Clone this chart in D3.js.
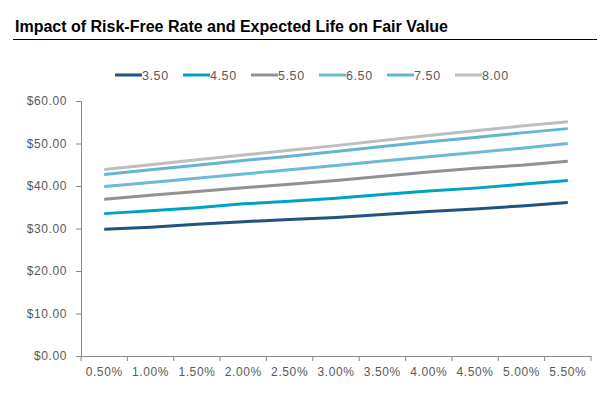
<!DOCTYPE html>
<html>
<head>
<meta charset="utf-8">
<script src="https://cdn.jsdelivr.net/npm/d3@7"></script>
<style>
  body { margin: 0; background: #fff; }
  svg { display: block; font-family: "Liberation Sans", Arial, sans-serif; }
</style>
</head>
<body>
<div id="chart"></div>
<script>
// risk-free rates along the x axis
const rates = ["0.50%", "1.00%", "1.50%", "2.00%", "2.50%", "3.00%", "3.50%", "4.00%", "4.50%", "5.00%", "5.50%"];

// expected life (years), one line each
const lives = ["3.50", "4.50", "5.50", "6.50", "7.50", "8.00"];

const life350 = [29.8, 30.3, 31.0, 31.6, 32.1, 32.6, 33.3, 34.0, 34.6, 35.3, 36.1];
const life450 = [33.5, 34.2, 34.9, 35.8, 36.4, 37.1, 38.0, 38.8, 39.5, 40.4, 41.3];
const life550 = [36.9, 37.8, 38.7, 39.6, 40.4, 41.3, 42.3, 43.3, 44.2, 44.9, 45.8];
const life650 = [39.9, 40.8, 41.8, 42.8, 43.8, 44.8, 45.9, 46.9, 47.9, 48.9, 50.0];
const life750 = [42.7, 43.8, 44.9, 46.0, 47.0, 48.1, 49.3, 50.4, 51.4, 52.5, 53.5];
const life800 = [43.9, 45.0, 46.2, 47.3, 48.4, 49.5, 50.7, 51.9, 53.0, 54.1, 55.1];

const yTicks = [0, 10, 20, 30, 40, 50, 60];

const seriesValues = [life350, life450, life550, life650, life750, life800];
const colors = ["#22527F", "#00A2C4", "#909096", "#6CBAD6", "#63B6D2", "#BDBDC2"];

const width = 611, height = 393;
const margin = {top: 101, right: 20, bottom: 37, left: 81};

const svg = d3.select("#chart").append("svg")
    .attr("width", width)
    .attr("height", height);

// title + rule
svg.append("text")
    .attr("x", 15)
    .attr("y", 32)
    .attr("font-size", 16)
    .attr("font-weight", "bold")
    .attr("fill", "#000")
    .text("Impact of Risk-Free Rate and Expected Life on Fair Value");

svg.append("line")
    .attr("x1", 13).attr("x2", 597)
    .attr("y1", 39.5).attr("y2", 39.5)
    .attr("stroke", "#000")
    .attr("stroke-width", 1);

const x = d3.scaleBand()
    .domain(rates)
    .range([margin.left, 591]);

const y = d3.scaleLinear()
    .domain([0, 60])
    .range([356, margin.top]);

// y axis
const yAxis = svg.append("g")
    .attr("transform", `translate(${margin.left},0)`)
    .call(d3.axisLeft(y).tickValues(yTicks).tickSize(5).tickPadding(9)
        .tickFormat(d => "$" + d3.format(".2f")(d)));

// x axis
const xAxis = svg.append("g")
    .attr("transform", "translate(0,356)")
    .call(d3.axisBottom(x).tickSize(0).tickPadding(11));

// excel-style ticks between categories
xAxis.selectAll(".sep")
    .data(d3.range(rates.length + 1))
    .enter().append("line")
    .attr("class", "sep")
    .attr("x1", i => margin.left + i * x.step())
    .attr("x2", i => margin.left + i * x.step())
    .attr("y1", 0).attr("y2", 5)
    .attr("stroke", "#888");

[yAxis, xAxis].forEach(g => {
    g.selectAll(".domain").attr("stroke", "#888");
    g.selectAll(".tick line").attr("stroke", "#888");
    g.selectAll("text")
        .attr("font-size", 12)
        .attr("fill", "#595959")
        .attr("letter-spacing", 0.6)
        .attr("font-family", "Liberation Sans, Arial, sans-serif");
});

const line = d3.line()
    .x((d, i) => x(rates[i]) + x.bandwidth() / 2)
    .y(d => y(d));

svg.append("g").selectAll("path")
    .data(seriesValues)
    .enter().append("path")
    .attr("d", line)
    .attr("fill", "none")
    .attr("stroke", (d, i) => colors[i])
    .attr("stroke-width", 3);

// legend
const legend = svg.append("g").selectAll("g")
    .data(lives)
    .enter().append("g")
    .attr("transform", (d, i) => `translate(${115 + i * 68},75)`);

legend.append("line")
    .attr("x1", 0).attr("x2", 27)
    .attr("stroke", (d, i) => colors[i])
    .attr("stroke-width", 3);

legend.append("text")
    .attr("x", 27)
    .attr("y", 4.5)
    .attr("font-size", 12.5)
    .attr("letter-spacing", 0.6)
    .attr("fill", "#595959")
    .text(d => d);
</script>
</body>
</html>
